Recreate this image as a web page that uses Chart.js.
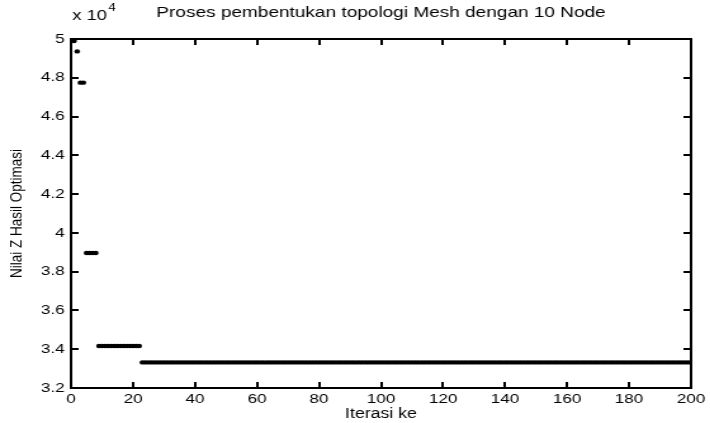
<!DOCTYPE html>
<html>
<head>
<meta charset="utf-8">
<script src="https://cdn.jsdelivr.net/npm/chart.js@4.4.0/dist/chart.umd.min.js"></script>
<style>
  html, body { margin: 0; padding: 0; background: #fff; overflow: hidden; }
  /* the reference looks like a 560-wide matlab figure stretched to 710 */
  #wrap { width: 560px; height: 423px; transform: scaleX(1.268); transform-origin: 0 0; }
</style>
</head>
<body>
<div id="wrap"><canvas id="chart" width="560" height="423"></canvas></div>
<script>
const TITLE   = "Proses pembentukan topologi Mesh dengan 10 Node";
const X_LABEL = "Iterasi ke";
const Y_LABEL = "Nilai Z Hasil Optimasi";

// plateaus: how many iterations stay at each Z value (x 10^4)
const RUN_LENGTH = [1, 1, 2, 4, 14, 178];
const RUN_VALUE  = [4.99, 4.936, 4.775, 3.896, 3.417, 3.332];

const X_TICKS = [0, 20, 40, 60, 80, 100, 120, 140, 160, 180, 200];
const Y_TICKS = [3.2, 3.4, 3.6, 3.8, 4, 4.2, 4.4, 4.6, 4.8, 5];

const FONT = '"Liberation Sans", Arial, sans-serif';

// one point per iteration
const points = [];
let iter = 1;
RUN_LENGTH.forEach((n, i) => {
  for (let k = 0; k < n; k++) points.push({ x: iter++, y: RUN_VALUE[i] });
});

/* ---- box with inward ticks, title and the x 10^4 factor ---- */
const frame = {
  id: "matlabFrame",
  afterDraw(c) {
    const ctx = c.ctx, x = c.scales.x, y = c.scales.y;
    const L = Math.round(x.getPixelForValue(0)), R = Math.round(x.getPixelForValue(200));
    const T = Math.round(y.getPixelForValue(5)), B = Math.round(y.getPixelForValue(3.2));
    const lw = 2; // 1px lines got lost in the photo, 2px survive
    ctx.save();
    ctx.fillStyle = "#000";
    ctx.fillRect(L - 1, T - 1, R - L + lw, lw);
    ctx.fillRect(L - 1, B - 1, R - L + lw, lw);
    ctx.fillRect(L - 1, T - 1, lw, B - T + lw);
    ctx.fillRect(R - 1, T - 1, lw, B - T + lw);
    X_TICKS.forEach(v => {
      const px = Math.round(x.getPixelForValue(v));
      ctx.fillRect(px - 1, B - 6, lw, 6);
      ctx.fillRect(px - 1, T, lw, 6);
    });
    Y_TICKS.forEach(v => {
      const py = Math.round(y.getPixelForValue(v));
      ctx.fillRect(L, py - 1, 6, lw);
      ctx.fillRect(R - 6, py - 1, 6, lw);
    });

    ctx.textBaseline = "middle";
    ctx.textAlign = "center";
    ctx.font = "15px " + FONT;
    ctx.fillText(TITLE, (L + R) / 2, 13);

    ctx.textAlign = "left";
    ctx.font = "14.5px " + FONT;
    ctx.fillText("x 10", L + 1, 16);
    const w = ctx.measureText("x 10").width;
    ctx.font = "10.5px " + FONT;
    ctx.fillText("4", L + 2 + w, 8);
    ctx.restore();
  }
};

new Chart(document.getElementById("chart"), {
  type: "scatter",
  data: {
    datasets: [{
      data: points,
      backgroundColor: "#000",
      borderColor: "#000",
      borderWidth: 0,
      pointRadius: 2.2,
      pointHoverRadius: 2.2
    }]
  },
  options: {
    responsive: false,
    animation: false,
    devicePixelRatio: 1,
    layout: { padding: { top: 39, right: 15, left: 0, bottom: 0 } },
    plugins: { legend: { display: false }, tooltip: { enabled: false } },
    scales: {
      x: {
        type: "linear", min: 0, max: 200,
        grid: { display: false, drawTicks: false }, border: { display: false },
        afterBuildTicks: s => { s.ticks = X_TICKS.map(v => ({ value: v })); },
        afterFit: s => { s.height = 35; },
        ticks: { color: "#000", font: { family: FONT, size: 13.5 }, padding: 3, maxRotation: 0, autoSkip: false },
        title: { display: true, text: X_LABEL, color: "#000", font: { family: FONT, size: 14 }, padding: { top: 0, bottom: 0 } }
      },
      y: {
        type: "linear", min: 3.2, max: 5,
        grid: { display: false, drawTicks: false }, border: { display: false },
        afterBuildTicks: s => { s.ticks = Y_TICKS.map(v => ({ value: v })); },
        afterFit: s => { s.width = 56; },
        ticks: {
          color: "#000", font: { family: FONT, size: 13.5 }, padding: 5, autoSkip: false,
          callback: v => String(Number(v.toFixed(1)))
        },
        title: { display: true, text: Y_LABEL, color: "#000", font: { family: FONT, size: 13.5 }, padding: { top: 5, bottom: 0 } }
      }
    }
  },
  plugins: [frame]
});
</script>
</body>
</html>
